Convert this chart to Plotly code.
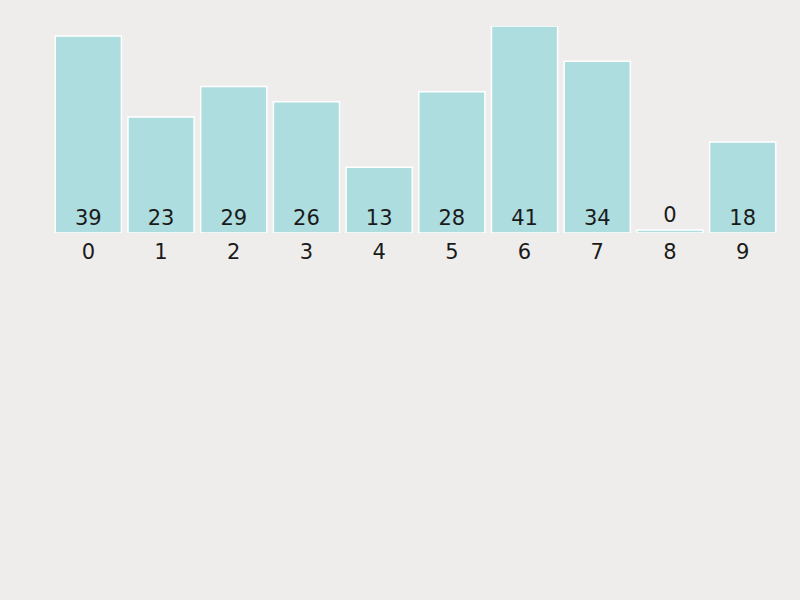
import plotly.graph_objects as go

categories = ["0", "1", "2", "3", "4", "5", "6", "7", "8", "9"]
values = [39, 23, 29, 26, 13, 28, 41, 34, 0, 18]

# zero bar is still drawn as a thin sliver in the original
bar_heights = [v if v > 0 else 0.6 for v in values]

fig = go.Figure()
fig.add_trace(go.Bar(
    x=categories,
    y=bar_heights,
    text=[str(v) for v in values],
    textposition="auto",
    insidetextanchor="start",
    textfont=dict(family="DejaVu Sans", size=21, color="#1a1a1a"),
    marker=dict(color="#aedde0", line=dict(color="#ffffff", width=1.5)),
    hoverinfo="skip",
))

fig.update_layout(
    width=800,
    height=600,
    paper_bgcolor="#eeedeb",
    plot_bgcolor="#eeedeb",
    margin=dict(l=52, r=21, t=26, b=367),
    bargap=0.09,
    showlegend=False,
    font=dict(family="DejaVu Sans", size=21, color="#1a1a1a"),
    xaxis=dict(type="category", range=[-0.5, 9.5], showgrid=False, zeroline=False,
               showline=False, ticks="", ticklabelstandoff=4, tickfont=dict(size=21)),
    yaxis=dict(range=[0, 41], visible=False, showgrid=False, zeroline=False),
)

fig.write_html(
    "out.html",
    config={"displayModeBar": False},
    post_script="document.body.style.margin='0';document.body.style.background='#eeedeb';",
)
